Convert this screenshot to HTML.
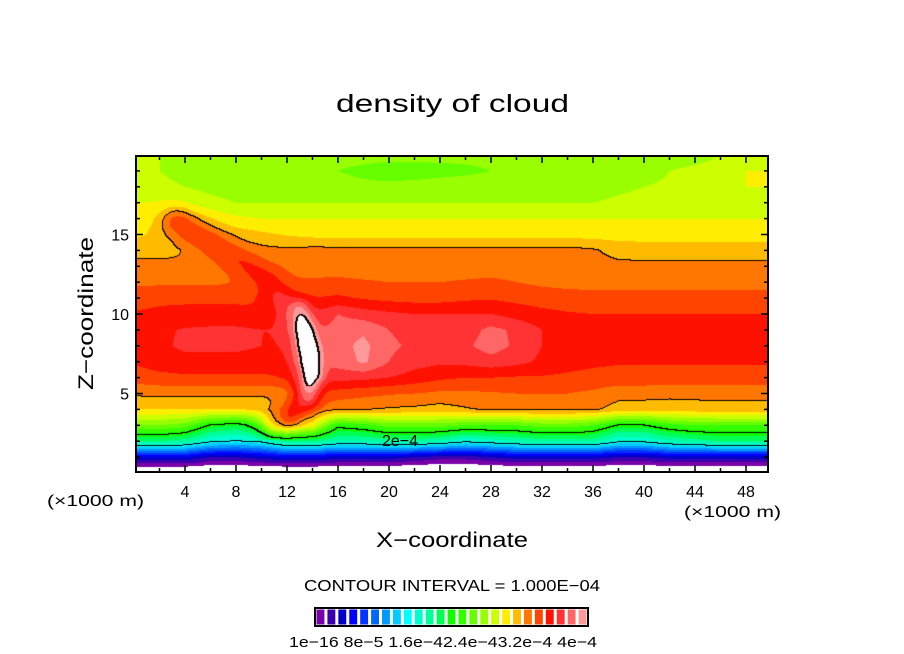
<!DOCTYPE html>
<html><head><meta charset="utf-8"><style>
body{margin:0;background:#fff;width:904px;height:654px;overflow:hidden;position:relative;font-family:"Liberation Sans",sans-serif}
canvas{position:absolute;left:136px;top:156px}
svg{position:absolute;left:0;top:0}
</style></head><body>
<canvas id="c" width="632" height="316"></canvas>
<svg id="s" width="904" height="654"></svg>
<script>
// base grid: x = 0..50 step 2, rows from z=20 (top) to z=0; values are colour level indices
const xGrid=[0,2,4,6,8,10,12,14,16,18,20,22,24,26,28,30,32,34,36,38,40,42,44,46,48,50];
const zGrid=[20,19,18,17,16,15,14,13,12,11,10,9,8,7,6,5,4,3,2,1,0];
const r20=[16,16,15.5,15.3,15.3,15.3,15.3,15.3,15.3,15.3,15.3,15.3,15.3,15.3,15.3,15.3,15.3,15.3,15.3,15.3,15.3,15.3,15.5,16,16,16];
const r19=[16,16,15.6,15.3,15.3,15.3,15.3,15.2,15,14.8,14.6,14.6,14.7,14.8,15,15.2,15.3,15.3,15.3,15.3,15.5,16,16.3,16.5,17,17];
const r18=[16.5,16.3,16,15.7,15.5,15.5,15.5,15.4,15.3,15.2,15.2,15.3,15.4,15.5,15.5,15.5,15.5,15.5,15.5,15.8,16,16.2,16.5,16.8,17,17];
const r17=[17,17,16.8,16.3,16,16,16,16,16,16,16,16,16,16,16,16,16,16,16,16.2,16.3,16.4,16.5,16.6,16.7,16.7];
const r16=[17.5,17.8,18.5,17.8,17.2,17,17,17,17,17,17,17,17,17,17,17,17,17,17,17,17,17,17,17,17,17];
const r15=[17.8,18.2,18.8,18.8,18.5,18.2,17.9,17.7,17.6,17.6,17.6,17.6,17.6,17.6,17.6,17.6,17.6,17.6,17.6,17.5,17.5,17.5,17.5,17.5,17.5,17.5];
const r14=[18.6,18.6,18.8,19,19.1,19.2,19.2,19.3,19.3,19.3,19.3,19.3,19.3,19.3,19.3,19.3,19.3,19.3,19.1,18.7,18.6,18.6,18.6,18.6,18.6,18.6];
const r13=[19.3,19.3,19.3,19.4,19.5,19.6,19.7,19.7,19.6,19.5,19.5,19.5,19.5,19.5,19.5,19.5,19.5,19.5,19.3,19.2,19.2,19.2,19.2,19.2,19.2,19.2];
const r12=[19.8,19.8,19.8,19.8,19.9,20,20,20.1,20.2,20.1,20,20,20,20.1,20.2,20,19.8,19.7,19.7,19.7,19.7,19.7,19.7,19.7,19.7,19.7];
const r11=[20.6,20.8,20.8,20.8,20.8,20.8,20.8,21,21.2,20.9,20.7,20.6,20.6,20.8,20.9,20.7,20.5,20.4,20.3,20.3,20.3,20.3,20.3,20.3,20.3,20.3];
const r10=[21.1,21.2,21.3,21.3,21.3,21.2,21.4,22,23,22.5,22.2,22,22,22,22,21.6,21.3,21.1,21,21,21,21,21,21,21,21];
const r9=[21.2,21.8,22.1,22.2,22.2,22,21.8,22.5,23.5,23.8,23,22.6,22.3,22.5,23.3,22.8,22,21.5,21.2,21.1,21.1,21.1,21.1,21.1,21.1,21.1];
const r8=[21.2,21.8,22.2,22.2,22.2,22,21.8,22.8,23.6,24.3,23.2,22.8,22.5,22.8,23.5,22.8,22,21.5,21.2,21.1,21.1,21.1,21.1,21.1,21.1,21.1];
const r7=[21.1,21.5,21.7,21.7,21.7,21.6,21.6,22.6,23.4,24.2,23,22.4,22.2,22.3,22.6,22.3,21.8,21.4,21.2,21.1,21.1,21.1,21.1,21.1,21.1,21.1];
const r6=[20.5,20.7,20.8,20.8,20.8,20.8,21,21.8,22.4,22.3,22,21.6,21.2,21,21,20.9,20.9,20.8,20.7,20.6,20.6,20.6,20.6,20.6,20.6,20.6];
const r5=[19.2,19.3,19.3,19.3,19.3,19.2,19.3,20.5,20.5,20.3,20.1,20,19.8,19.8,19.9,20,20,20,19.8,19.4,19.4,19.3,19.3,19.3,19.3,19.3];
const r4=[18,18,18,18,18,18,18.2,19.3,19.3,19.1,18.9,18.8,18.6,18.9,19.2,19.3,19.3,19.3,19.2,18.6,18.5,18.5,18.6,18.7,18.7,18.7];
const r3=[15,15,14.5,12.5,12,13,16.5,17,13,13.5,14.5,14.5,14.5,14,14,14,14.5,14.5,14,12.5,12.5,13.5,14,14,14,14];
const r2=[11,11,10.5,9,8.5,9,11,11,10,10,10.5,10.5,10,9,9.5,10,10.5,10.5,10.5,9,9,10,10.5,11,11,11];
const r1=[3,3,3,2,2,2.5,3,3,2.5,2.5,2.5,2,1.5,1.5,2,2.5,2.5,2.5,2.5,2,2,2.5,2.5,2.5,2.5,2.5];
const r0=[-2,-2,-2,-2,-2,-2,-2,-2,-2,-2,-2,-2,-2,-2,-2,-2,-2,-2,-2,-2,-2,-2,-2,-2,-2,-2];
const rows=[r20,r19,r18,r17,r16,r15,r14,r13,r12,r11,r10,r9,r8,r7,r6,r5,r4,r3,r2,r1,r0];
// plume ridge (x, z, level boost)
const plumeX=[3.3,6,8.5,10.5,12,13,13.6,13.4,12.2,10.9];
const plumeZ=[15.8,14.5,13.3,12.2,10.5,8.5,6,4.5,3.5,3];
const plumeBoost=[2.2,2,1.6,1.5,1.5,1.5,1.8,2.5,3.5,3];
// crescent core (exceeds colour range)
const coreX=[13.1,13.5,13.9,14.05,13.7];
const coreZ=[10.3,9,7.5,6.2,5];
const coreBoost=[2,3.2,3.2,3,1.5];
const contourLevels=[8.5,12.5,19,25];
const palette=["#7a00a8","#3a00b0","#0000c8","#0000ff","#0033ff","#0066ff","#0099ff","#00ccff","#00ffff","#00ffcc","#00ff99","#00ff55","#10ff00","#33ff00","#66ff00","#99ff00","#ccff00","#ffee00","#ffbb00","#ff7700","#ff4400","#ff1100","#ff3333","#ff6666","#ff9999"];
const xTicks=[4,8,12,16,20,24,28,32,36,40,44,48];
const zTicks=[5,10,15];
const cbLabels="1e-16 8e-5 1.6e-42.4e-43.2e-4 4e-4";

const PX0=136,PY0=156,PW=632,PH=316;
const X0=134,XS=12.75,Z0=473,ZS=15.9;
const sx=x=>X0+x*XS, sz=z=>Z0-z*ZS;
function field(x,z){
  let fx=(x-xGrid[0])/(xGrid[1]-xGrid[0]);fx=Math.max(0,Math.min(xGrid.length-1.0001,fx));
  let fz=(zGrid[0]-z)/(zGrid[0]-zGrid[1]);fz=Math.max(0,Math.min(zGrid.length-1.0001,fz));
  const i=Math.floor(fx),j=Math.floor(fz),a=fx-i,b=fz-j;
  return (rows[j][i]*(1-a)+rows[j][i+1]*a)*(1-b)+(rows[j+1][i]*(1-a)+rows[j+1][i+1]*a)*b;
}
function ridge(px,py,xs,zs,bs,w){
  let best=0;
  for(let k=0;k<xs.length-1;k++){
    const ax=sx(xs[k]),ay=sz(zs[k]),bx=sx(xs[k+1]),by=sz(zs[k+1]);
    const dx=bx-ax,dy=by-ay,L=dx*dx+dy*dy;
    let t=((px-ax)*dx+(py-ay)*dy)/L;t=Math.max(0,Math.min(1,t));
    const qx=ax+t*dx-px,qy=ay+t*dy-py,d2=qx*qx+qy*qy;
    const v=(bs[k]*(1-t)+bs[k+1]*t)*Math.exp(-d2/(w*w));
    if(v>best)best=v;
  }
  return best;
}
const cv=document.getElementById('c'),ctx=cv.getContext('2d');
const img=ctx.createImageData(PW,PH);
const V=new Float32Array(PW*PH);
for(let py=0;py<PH;py++)for(let px=0;px<PW;px++){
  const X=PX0+px+0.5,Y=PY0+py+0.5;
  const x=(X-X0)/XS, z=(Z0-Y)/ZS;
  let v=field(x,z);
  if(v>0&&X<360&&Y>190&&Y<440){v+=ridge(X,Y,plumeX,plumeZ,plumeBoost,15);v+=ridge(X,Y,coreX,coreZ,coreBoost,10);}
  V[py*PW+px]=v;
}
function hex(h){return [parseInt(h.substr(1,2),16),parseInt(h.substr(3,2),16),parseInt(h.substr(5,2),16)];}
const pal=palette.map(hex);
for(let k=0;k<PW*PH;k++){
  const v=V[k];let c;
  if(v<0||v>=25)c=[255,255,255];else c=pal[Math.min(24,Math.floor(v))];
  img.data[k*4]=c[0];img.data[k*4+1]=c[1];img.data[k*4+2]=c[2];img.data[k*4+3]=255;
}
for(const t of contourLevels){
  for(let py=0;py<PH-1;py++)for(let px=0;px<PW-1;px++){
    const k=py*PW+px,s=V[k]>=t;
    if(s!==(V[k+1]>=t)||s!==(V[k+PW]>=t)){img.data[k*4]=0;img.data[k*4+1]=0;img.data[k*4+2]=0;
      if((t===12.5||t===25)&&px>0){const q=(k-1)*4;img.data[q]=0;img.data[q+1]=0;img.data[q+2]=0;}}
  }
}
ctx.putImageData(img,0,0);

const S=document.getElementById('s'),NS="http://www.w3.org/2000/svg";
function el(tag,attrs,txt){const e=document.createElementNS(NS,tag);for(const k in attrs)e.setAttribute(k,attrs[k]);if(txt!=null)e.textContent=txt;S.appendChild(e);return e;}
let e;
e=el('rect',{x:PX0,y:PY0,width:PW,height:PH,fill:'none',stroke:'#000','stroke-width':2});


for(let x=2;x<=48;x+=2){
  const L=(x%4===0)?7:4,X=sx(x);
  e=el('line',{x1:X,y1:PY0+PH,x2:X,y2:PY0+PH-L,stroke:'#000','stroke-width':1.5});
  
  
  e=el('line',{x1:X,y1:PY0,x2:X,y2:PY0+L,stroke:'#000','stroke-width':1.5});
  
  
}
for(const x of xTicks){
  e=el('text',{x:sx(x),y:497,'font-size':16,'text-anchor':'middle'},String(x));
  
  
}
for(let z=1;z<=19;z++){
  const L=(z%5===0)?7:4,Y=sz(z);
  e=el('line',{x1:PX0,y1:Y,x2:PX0+L,y2:Y,stroke:'#000','stroke-width':1.5});
  
  
  e=el('line',{x1:PX0+PW,y1:Y,x2:PX0+PW-L,y2:Y,stroke:'#000','stroke-width':1.5});
  
  
}
for(const z of zTicks){
  e=el('text',{x:129,y:sz(z)+6,'font-size':16,'text-anchor':'end'},String(z));
  
  
}
e=el('text',{x:336,y:112,'font-size':25,textLength:233,lengthAdjust:'spacingAndGlyphs'},'density of cloud');


e=el('text',{x:376,y:547,'font-size':21,textLength:152,lengthAdjust:'spacingAndGlyphs'},'X\u2212coordinate');


e=el('text',{x:0,y:0,'font-size':21,textLength:153,lengthAdjust:'spacingAndGlyphs',transform:'translate(93,390) rotate(-90)'},'Z\u2212coordinate');


e=el('text',{x:47,y:506,'font-size':16,textLength:97,lengthAdjust:'spacingAndGlyphs'},'(\u00d71000 m)');


e=el('text',{x:684,y:517,'font-size':16,textLength:97,lengthAdjust:'spacingAndGlyphs'},'(\u00d71000 m)');


e=el('text',{x:382,y:446,'font-size':16},'2e\u22124');


e=el('text',{x:304,y:591,'font-size':16,textLength:296,lengthAdjust:'spacingAndGlyphs'},'CONTOUR INTERVAL = 1.000E\u221204');


const cbX=315,cbW=273,cbY=608,cbH=18,bw=cbW/palette.length;
palette.forEach((c,i)=>{
  const r=el('rect',{x:cbX+i*bw+1.5,y:cbY+1.5,width:bw-3,height:cbH-3,fill:c});
  
  
});
e=el('rect',{x:cbX,y:cbY,width:cbW,height:cbH,fill:'none',stroke:'#000','stroke-width':2});


e=el('text',{x:289,y:647,'font-size':15,textLength:308,lengthAdjust:'spacingAndGlyphs'},cbLabels.replace(/-/g,'\u2212'));


</script>
</body></html>
